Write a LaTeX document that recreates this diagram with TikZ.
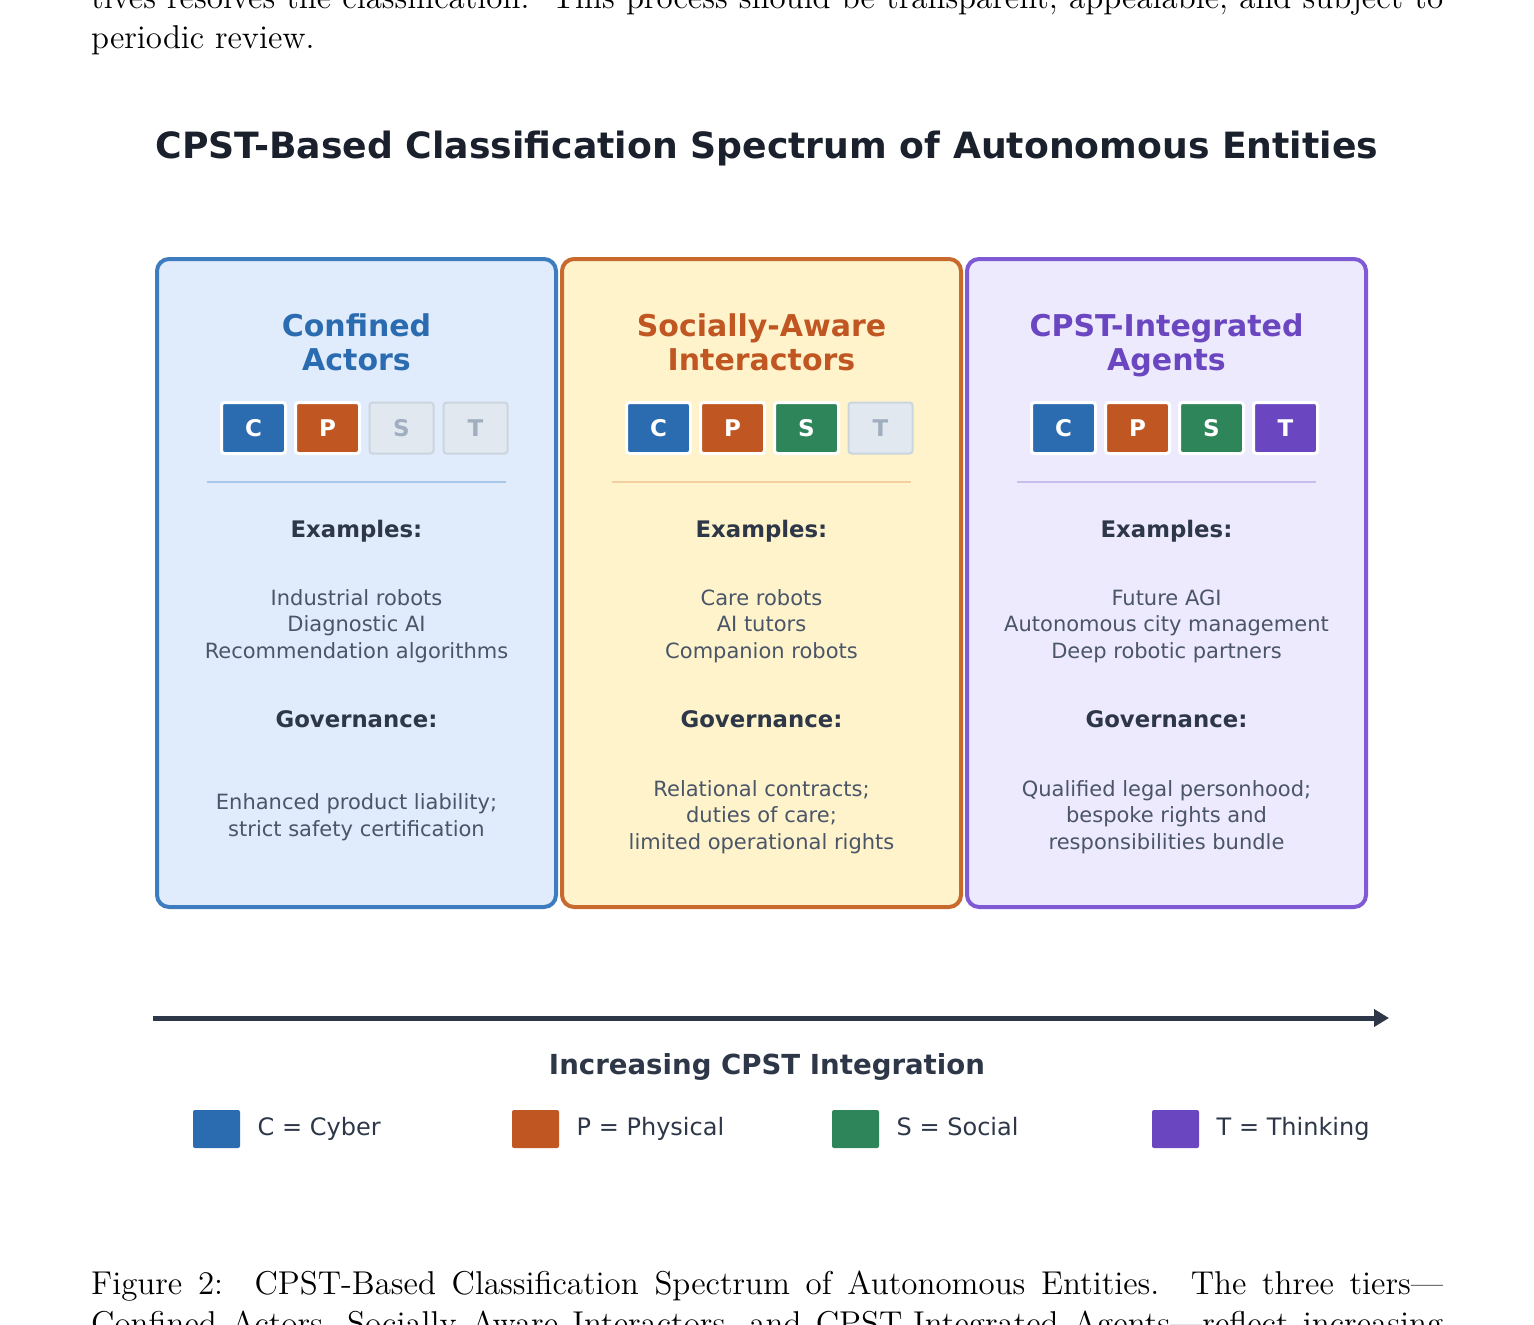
\documentclass[tikz,border=0pt]{standalone}
\usepackage{fontspec}
\usepackage{tikz}
\usetikzlibrary{arrows.meta, positioning}
\newfontfamily\diagfont{DejaVu Sans}
\newfontfamily\pagefont{lmroman12-regular.otf}[Ligatures=TeX]

\definecolor{cyb}{HTML}{2B6CB0}
\definecolor{phy}{HTML}{C05621}
\definecolor{soc}{HTML}{2F855A}
\definecolor{thk}{HTML}{6B46C1}
\definecolor{inktitle}{HTML}{1A202C}
\definecolor{inkdark}{HTML}{2D3748}
\definecolor{inkgrey}{HTML}{4A5568}
\definecolor{offfill}{HTML}{E2E8F0}
\definecolor{offdraw}{HTML}{CBD5E0}
\definecolor{offtext}{HTML}{A0AEC0}
\definecolor{confdraw}{HTML}{3D7CBF}
\definecolor{conffill}{HTML}{E0ECFB}
\definecolor{confline}{HTML}{A9C8E8}
\definecolor{socdraw}{HTML}{C8692E}
\definecolor{socfill}{HTML}{FEF3CB}
\definecolor{socline}{HTML}{F2CFA0}
\definecolor{intdraw}{HTML}{805AD5}
\definecolor{intfill}{HTML}{EEEAFD}
\definecolor{intline}{HTML}{C9BDEB}

\begin{document}
\begin{tikzpicture}[
        x=1pt, y=-1pt,
        tier/.style={rectangle, draw, rounded corners=12pt, line width=4pt, minimum width=399pt, minimum height=648pt},
        tiertitle/.style={align=center, font=\diagfont\bfseries\fontsize{30}{34}\selectfont, execute at end node=\strut},
        badge/.style={rectangle, draw=white, line width=3pt, rounded corners=3pt, outer sep=0pt, minimum width=64pt, minimum height=51pt, text=white, font=\diagfont\bfseries\fontsize{23}{23}\selectfont},
        badgeoff/.style={badge, fill=offfill, draw=offdraw, line width=2pt, text=offtext},
        sepline/.style={line width=2pt},
        head/.style={text=inkdark, text height=17pt, text depth=5pt, font=\diagfont\bfseries\fontsize{22.8}{26}\selectfont},
        body/.style={align=center, text=inkgrey, font=\diagfont\fontsize{21}{26.5}\selectfont},
        axis/.style={-{Triangle[length=15pt, width=17pt]}, line width=5pt, draw=inkdark},
        legbox/.style={rectangle, rounded corners=2pt, minimum width=47pt, minimum height=38pt, inner sep=0pt},
        legtext/.style={anchor=west, text=inkdark, text height=18pt, text depth=5pt, font=\diagfont\fontsize{24}{26}\selectfont},
        page/.style={anchor=base west, inner sep=0pt, font=\pagefont\fontsize{33}{40}\selectfont}
    ]
    \useasboundingbox (0,0) rectangle (1534,1325);

    % Surrounding page text
    \node (prose1) [page] at (91,9) {\hbox to 1352pt{tives resolves the classification.\ \ This process should be transparent, appealable, and subject to}};
    \node (prose2) [page] at (91,48) {periodic review.};

    % Title
    \node (title) [text=inktitle, font=\diagfont\bfseries\fontsize{36.2}{40}\selectfont] at (767,149) {CPST-Based Classification Spectrum of Autonomous Entities};

    % Tier boxes
    \node (confined) [tier, draw=confdraw, fill=conffill] at (356.5,583) {};
    \node (social) [tier, draw=socdraw, fill=socfill] at (761.5,583) {};
    \node (integrated) [tier, draw=intdraw, fill=intfill] at (1166.5,583) {};

    % Confined Actors
    \node (confinedT) [tiertitle, text=cyb] at (356.5,347) {Confined\\Actors};
    \node (c1) [badge, fill=cyb] at (253.5,428) {C};
    \node (p1) [badge, fill=phy, right=10pt of c1] {P};
    \node (s1) [badgeoff, right=10pt of p1] {S};
    \node (t1) [badgeoff, right=10pt of s1] {T};
    \draw [sepline, draw=confline] (207,482) -- (506,482);
    \node (confinedEx) [head] at (356.5,531) {Examples:};
    \node (confinedList) [body] at (356.5,626) {Industrial robots\\Diagnostic AI\\Recommendation algorithms};
    \node (confinedGov) [head] at (356.5,721) {Governance:};
    \node (confinedRule) [body] at (356.5,817) {Enhanced product liability;\\strict safety certification};

    % Socially-Aware Interactors
    \node (socialT) [tiertitle, text=phy] at (761.5,347) {Socially-Aware\\Interactors};
    \node (c2) [badge, fill=cyb] at (658.5,428) {C};
    \node (p2) [badge, fill=phy, right=10pt of c2] {P};
    \node (s2) [badge, fill=soc, right=10pt of p2] {S};
    \node (t2) [badgeoff, right=10pt of s2] {T};
    \draw [sepline, draw=socline] (612,482) -- (911,482);
    \node (socialEx) [head] at (761.5,531) {Examples:};
    \node (socialList) [body] at (761.5,626) {Care robots\\AI tutors\\Companion robots};
    \node (socialGov) [head] at (761.5,721) {Governance:};
    \node (socialRule) [body] at (761.5,817) {Relational contracts;\\duties of care;\\limited operational rights};

    % CPST-Integrated Agents
    \node (integratedT) [tiertitle, text=thk] at (1166.5,347) {CPST-Integrated\\Agents};
    \node (c3) [badge, fill=cyb] at (1063.5,428) {C};
    \node (p3) [badge, fill=phy, right=10pt of c3] {P};
    \node (s3) [badge, fill=soc, right=10pt of p3] {S};
    \node (t3) [badge, fill=thk, right=10pt of s3] {T};
    \draw [sepline, draw=intline] (1017,482) -- (1316,482);
    \node (integratedEx) [head] at (1166.5,531) {Examples:};
    \node (integratedList) [body] at (1166.5,626) {Future AGI\\Autonomous city management\\Deep robotic partners};
    \node (integratedGov) [head] at (1166.5,721) {Governance:};
    \node (integratedRule) [body] at (1166.5,817) {Qualified legal personhood;\\bespoke rights and\\responsibilities bundle};

    % Spectrum axis
    \coordinate (axisL) at (153,1018);
    \coordinate (axisR) at (1389,1018);
    \draw [axis] (axisL) -- (axisR);
    \node (axisLabel) [head, font=\diagfont\bfseries\fontsize{27.6}{30}\selectfont, text height=20pt, text depth=6pt] at (767,1067) {Increasing CPST Integration};

    % Legend
    \node (legC) [legbox, fill=cyb] at (216.5,1129) {};
    \node (legCt) [legtext, right=14pt of legC] {C = Cyber};
    \node (legP) [legbox, fill=phy] at (535.5,1129) {};
    \node (legPt) [legtext, right=14pt of legP] {P = Physical};
    \node (legS) [legbox, fill=soc] at (855.5,1129) {};
    \node (legSt) [legtext, right=14pt of legS] {S = Social};
    \node (legT) [legbox, fill=thk] at (1175.5,1129) {};
    \node (legTt) [legtext, right=14pt of legT] {T = Thinking};

    % Caption
    \node (caption1) [page] at (91,1294) {\hbox to 1352pt{Figure 2:\ \ CPST-Based Classification Spectrum of Autonomous Entities.\ \ The three tiers---}};
    \node (caption2) [page] at (91,1334) {\hbox to 1352pt{Confined Actors, Socially Aware Interactors, and CPST-Integrated Agents---reflect increasing}};
\end{tikzpicture}
\end{document}
